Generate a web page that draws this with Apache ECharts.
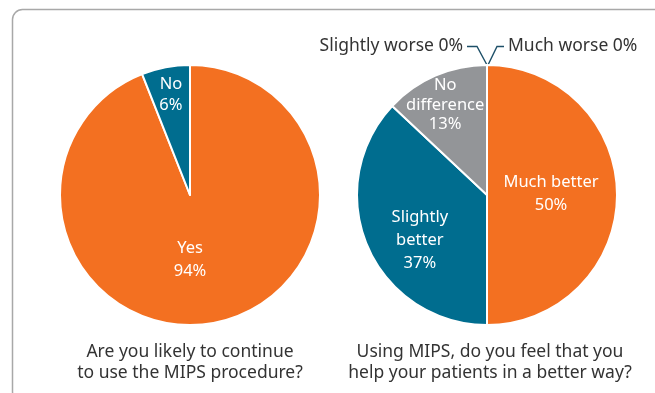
<!DOCTYPE html>
<html>
<head>
<meta charset="utf-8">
<script src="https://cdn.jsdelivr.net/npm/echarts@6/dist/echarts.min.js"></script>
<style>
  html, body { margin: 0; padding: 0; background: #fff; }
  #chart { width: 655px; height: 393px; }
</style>
</head>
<body>
<div id="chart"></div>
<script>
// Survey answers, left pie
const continueCategories = ['Yes', 'No'];
const continueValues = [94, 6];
const continueQuestion = 'Are you likely to continue\nto use the MIPS procedure?';

// Survey answers, right pie
const helpCategories = ['Much better', 'Slightly better', 'No difference', 'Slightly worse', 'Much worse'];
const helpLabelText = ['Much better', 'Slightly\nbetter', 'No\ndifference', 'Slightly worse', 'Much worse'];
const helpValues = [50, 37, 13, 0, 0];
const helpQuestion = 'Using MIPS, do you feel that you\nhelp your patients in a better way?';

const ORANGE = '#f37021';
const TEAL = '#006d8f';
const GREY = '#939598';
const FONT = '"Noto Sans", "Open Sans", sans-serif';

const chart = echarts.init(document.getElementById('chart'), null, { renderer: 'canvas' });

const R = 130;
const leftCenter = [190, 195];
const rightCenter = [487, 195];

// Where each inside label sits: [clockwise angle from 12 o'clock in degrees, distance from centre]
const leftLabelSpots = [[180, 65], [-10.8, 102]];
const rightLabelSpots = [[89, 64], [236, 81], [335, 99]];
// line spacing of each inside label
const leftLineHeights = [23, 21];
const rightLineHeights = [23, 23, 19.5];

function spot(center, a) {
  const rad = a[0] * Math.PI / 180;
  return [center[0] + a[1] * Math.sin(rad), center[1] - a[1] * Math.cos(rad)];
}

function insideLayout(center, spots) {
  return function (p) {
    const s = spots[p.dataIndex];
    if (!s) return {};
    const t = spot(center, s);
    const r = p.labelRect;
    return { dx: t[0] - (r.x + r.width / 2), dy: t[1] - (r.y + r.height / 2) };
  };
}

const labelBase = {
  fontFamily: FONT, fontSize: 16.5, color: '#fff', lineHeight: 23, align: 'center'
};

const pct = v => v + '%';

chart.setOption({
  animation: false,
  graphic: [
    {
      type: 'rect',
      shape: { x: 12.5, y: 9.5, width: 700, height: 392, r: 10 },
      style: { fill: 'none', stroke: '#a8a8a8', lineWidth: 1.5 },
      silent: true, z: -10
    },
    {
      type: 'text', x: leftCenter[0], y: 362.5,
      style: {
        text: continueQuestion, fontFamily: FONT, fontSize: 17.5, lineHeight: 21.5,
        fill: '#333', align: 'center', verticalAlign: 'middle'
      }
    },
    {
      type: 'text', x: 490, y: 362.5,
      style: {
        text: helpQuestion, fontFamily: FONT, fontSize: 17.5, lineHeight: 21.5,
        fill: '#333', align: 'center', verticalAlign: 'middle'
      }
    },
    // callouts for the two empty answers, anchored at the top of the right pie
    {
      type: 'polyline',
      shape: { points: [[467, 46.5], [477, 46.5], [rightCenter[0], rightCenter[1] - R]] },
      style: { stroke: '#1d4f68', lineWidth: 1.4, fill: 'none' }
    },
    {
      type: 'polyline',
      shape: { points: [[rightCenter[0] + 1, rightCenter[1] - R], [497, 46.5], [504, 46.5]] },
      style: { stroke: '#1d4f68', lineWidth: 1.4, fill: 'none' }
    },
    {
      type: 'text', x: 463, y: 46.5,
      style: {
        text: helpCategories[3] + ' ' + pct(helpValues[3]), fontFamily: FONT, fontSize: 17.5,
        fill: '#333', align: 'right', verticalAlign: 'middle'
      }
    },
    {
      type: 'text', x: 508, y: 46.5,
      style: {
        text: helpCategories[4] + ' ' + pct(helpValues[4]), fontFamily: FONT, fontSize: 17.5,
        fill: '#333', align: 'left', verticalAlign: 'middle'
      }
    }
  ],
  series: [
    {
      type: 'pie',
      center: leftCenter,
      radius: [0, R],
      startAngle: 90,
      clockwise: true,
      silent: true,
      itemStyle: { borderColor: '#fff', borderWidth: 2 },
      label: {
        show: true, position: 'inside', formatter: p => p.name + '\n' + pct(p.value),
        ...labelBase
      },
      labelLine: { show: false },
      labelLayout: insideLayout(leftCenter, leftLabelSpots),
      data: continueCategories.map((c, i) => ({
        name: c, value: continueValues[i],
        itemStyle: { color: [ORANGE, TEAL][i] },
        label: { lineHeight: leftLineHeights[i] }
      }))
    },
    {
      type: 'pie',
      center: rightCenter,
      radius: [0, R],
      startAngle: 90,
      clockwise: true,
      silent: true,
      minShowLabelAngle: 0.1,
      itemStyle: { borderColor: '#fff', borderWidth: 2 },
      label: {
        show: true, position: 'inside',
        formatter: p => helpLabelText[p.dataIndex] + '\n' + pct(p.value),
        ...labelBase
      },
      labelLine: { show: false },
      labelLayout: insideLayout(rightCenter, rightLabelSpots),
      data: helpCategories.map((c, i) => ({
        name: c, value: helpValues[i],
        itemStyle: { color: [ORANGE, TEAL, GREY, GREY, GREY][i] },
        label: rightLineHeights[i] ? { lineHeight: rightLineHeights[i] } : {}
      }))
    }
  ]
});
</script>
</body>
</html>
